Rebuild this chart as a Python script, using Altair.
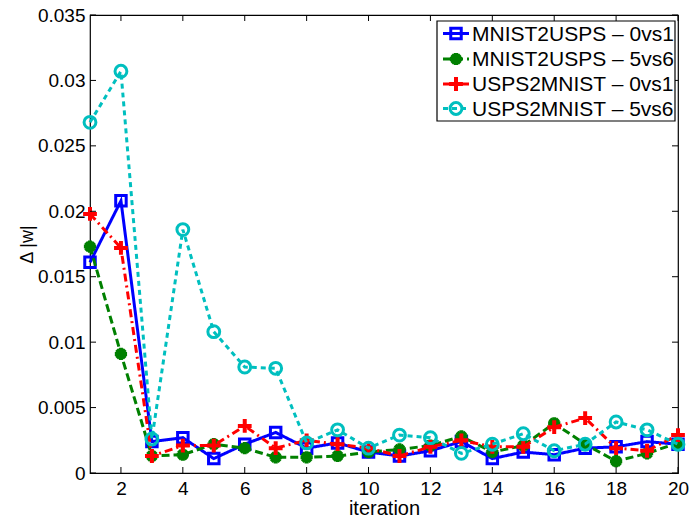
import altair as alt
import pandas as pd

iterations = list(range(1, 21))

series_names = [
    "MNIST2USPS – 0vs1",
    "MNIST2USPS – 5vs6",
    "USPS2MNIST – 0vs1",
    "USPS2MNIST – 5vs6",
]

mnist2usps_0vs1 = [0.0161, 0.0208, 0.0024, 0.0027, 0.0011, 0.0022, 0.0031, 0.0019, 0.0023, 0.0016,
                   0.0013, 0.0017, 0.0024, 0.0011, 0.0016, 0.0014, 0.0019, 0.0020, 0.0024, 0.0022]
mnist2usps_5vs6 = [0.0173, 0.0091, 0.0013, 0.0014, 0.0022, 0.0019, 0.0012, 0.0012, 0.0013, 0.0016,
                   0.0018, 0.0021, 0.0028, 0.0016, 0.0021, 0.0038, 0.0022, 0.0009, 0.0015, 0.0023]
usps2mnist_0vs1 = [0.0198, 0.0172, 0.0013, 0.0021, 0.0021, 0.0036, 0.0019, 0.0025, 0.0022, 0.0019,
                   0.0013, 0.0020, 0.0025, 0.0020, 0.0020, 0.0035, 0.0042, 0.0019, 0.0017, 0.0029]
usps2mnist_5vs6 = [0.0268, 0.0307, 0.0026, 0.0186, 0.0108, 0.0081, 0.0080, 0.0023, 0.0033, 0.0019,
                   0.0029, 0.0027, 0.0015, 0.0022, 0.0030, 0.0017, 0.0022, 0.0039, 0.0033, 0.0022]

x_ticks = list(range(2, 21, 2))
y_ticks = [0, 0.005, 0.01, 0.015, 0.02, 0.025, 0.03, 0.035]

W, H = 588, 458
FONT = "Liberation Sans"

ASTERISK = "M-1,0L1,0M0,-1L0,1M-0.7,-0.7L0.7,0.7M-0.7,0.7L0.7,-0.7"
PLUS = "M-1,0L1,0M0,-1L0,1"

styles = [
    dict(color="#0000FF", dash=[1, 0], shape="square", size=110, filled=False, sw=3),
    dict(color="#008000", dash=[8, 4], shape=ASTERISK, size=150, filled=False, sw=4),
    dict(color="#FF0000", dash=[8, 4, 2, 4], shape=PLUS, size=190, filled=False, sw=4),
    dict(color="#00BFBF", dash=[5, 4], shape="circle", size=140, filled=False, sw=3),
]

values = [mnist2usps_0vs1, mnist2usps_5vs6, usps2mnist_0vs1, usps2mnist_5vs6]

x_scale = alt.Scale(domain=[1, 20], nice=False, zero=False)
y_scale = alt.Scale(domain=[0, 0.035], nice=False, zero=False)

x_enc = alt.X("iteration:Q", scale=x_scale,
              axis=alt.Axis(values=x_ticks, ticks=False, domain=False, grid=False,
                            title="iteration", labelFontSize=19, titleFontSize=20,
                            labelFont=FONT, titleFont=FONT, labelColor="black",
                            titleColor="black", titleFontWeight="normal",
                            labelPadding=6, titlePadding=0, labelFlush=False))
y_enc = alt.Y("value:Q", scale=y_scale,
              axis=alt.Axis(values=y_ticks, ticks=False, domain=False, grid=False,
                            title="Δ |w|", labelFontSize=19, titleFontSize=18,
                            labelFont=FONT, titleFont=FONT, labelColor="black",
                            titleColor="black", titleFontWeight="normal",
                            labelPadding=5, titlePadding=1, labelFlush=False,
                            labelExpr="datum.value == 0 ? '0' : format(datum.value, '.3~f')"))

layers = []
for name, vals, st in zip(series_names, values, styles):
    df = pd.DataFrame({"iteration": iterations, "value": vals, "series": name})
    base = alt.Chart(df)
    line = base.mark_line(color=st["color"], strokeWidth=3, strokeDash=st["dash"],
                          clip=False).encode(x=x_enc, y=y_enc)
    pts = base.mark_point(shape=st["shape"], size=st["size"], filled=st["filled"],
                          color=st["color"], strokeWidth=st["sw"], opacity=1).encode(
        x=alt.X("iteration:Q", scale=x_scale), y=alt.Y("value:Q", scale=y_scale))
    layers += [line, pts]

# inward tick marks on all four sides
xt = alt.Chart(pd.DataFrame({"iteration": x_ticks}))
yt = alt.Chart(pd.DataFrame({"value": y_ticks}))
tick_len = 6
ticks = [
    xt.mark_rule(color="black", strokeWidth=1).encode(
        x=alt.X("iteration:Q", scale=x_scale), y=alt.value(H), y2=alt.value(H - tick_len)),
    xt.mark_rule(color="black", strokeWidth=1).encode(
        x=alt.X("iteration:Q", scale=x_scale), y=alt.value(0), y2=alt.value(tick_len)),
    yt.mark_rule(color="black", strokeWidth=1).encode(
        y=alt.Y("value:Q", scale=y_scale), x=alt.value(0), x2=alt.value(tick_len)),
    yt.mark_rule(color="black", strokeWidth=1).encode(
        y=alt.Y("value:Q", scale=y_scale), x=alt.value(W), x2=alt.value(W - tick_len)),
]

# legend box in the upper right corner
lx0, lx1, ly0, ly1 = 347, 585, 6, 106
row_y = [18.5, 44, 69, 93.5]
legend = [
    alt.Chart(pd.DataFrame({"k": [0]})).mark_rect(
        fill="white", stroke="black", strokeWidth=1.2).encode(
        x=alt.value(lx0), x2=alt.value(lx1), y=alt.value(ly0), y2=alt.value(ly1))
]
for name, st, ry in zip(series_names, styles, row_y):
    ld = alt.Chart(pd.DataFrame({"label": [name]}))
    legend.append(ld.mark_rule(color=st["color"], strokeWidth=3, strokeDash=st["dash"]).encode(
        x=alt.value(353), x2=alt.value(379), y=alt.value(ry)))
    legend.append(ld.mark_point(shape=st["shape"], size=st["size"], filled=st["filled"],
                                color=st["color"], strokeWidth=st["sw"], opacity=1).encode(
        x=alt.value(366), y=alt.value(ry)))
    legend.append(ld.mark_text(align="left", baseline="middle", font=FONT, fontSize=21,
                               color="black").encode(
        x=alt.value(382), y=alt.value(ry + 1), text="label:N"))

chart = alt.layer(*layers, *ticks, *legend).properties(
    width=W, height=H,
    autosize=alt.AutoSizeParams(type="none"),
    padding={"left": 90, "top": 15, "right": 11, "bottom": 42},
    background="white",
).configure_view(stroke="black", strokeWidth=1.2)

chart.save("out.html", embed_options={"renderer": "svg", "actions": False})
